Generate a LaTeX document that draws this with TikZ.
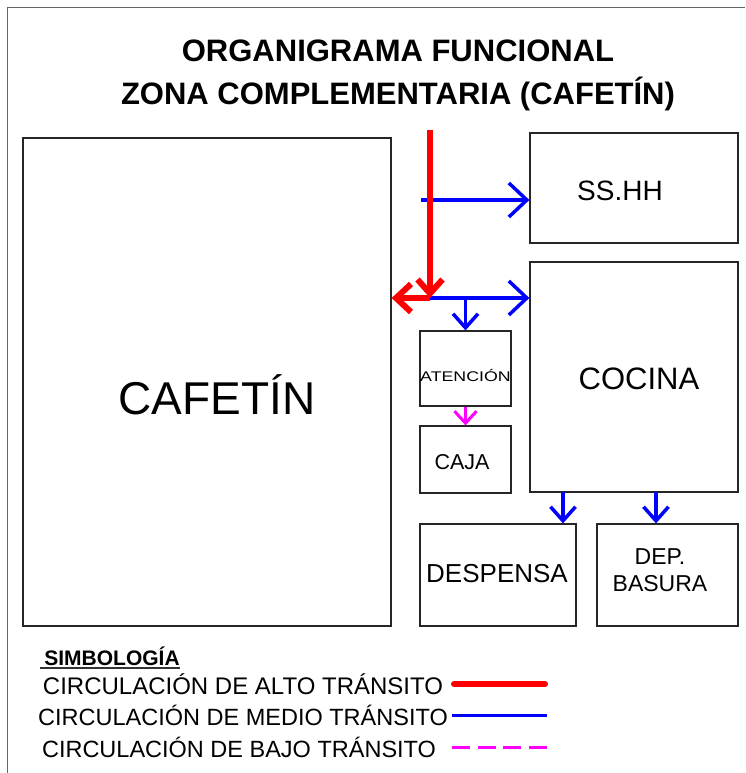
\documentclass[tikz,border=0pt]{standalone}
\usepackage{fontspec}
\setmainfont{Liberation Sans}
\usetikzlibrary{arrows.meta}
\definecolor{mag}{RGB}{255,0,255}
\definecolor{pred}{RGB}{255,0,0}
\definecolor{pblue}{RGB}{0,0,255}
\begin{document}
\begin{tikzpicture}[x=1pt,y=-1pt,
  box/.style={draw=black!85,line width=1.2pt,inner sep=0pt},
  txt/.style={inner sep=0pt,anchor=base},
  alto/.style={draw=pred,line width=6pt},
  medio/.style={draw=pblue,line width=3.5pt},
  bajo/.style={draw=mag,line width=3pt},
  big/.style={-{Straight Barb[length=18pt,width=34pt]}},
  small/.style={-{Straight Barb[length=14pt,width=25pt]}},
  tiny/.style={-{Straight Barb[length=12pt,width=22pt]}},
  redhead/.style={-{Straight Barb[length=15pt,width=28pt]}}]
\useasboundingbox (0,0) rectangle (745,773);
\draw[line width=1.3pt,black!60] (7.5,773) -- (7.5,7.5) -- (745,7.5);

% title
\node[txt,font=\fontsize{31}{31}\bfseries\selectfont] (t1) at (398,61.5) {ORGANIGRAMA FUNCIONAL};
\node[txt,font=\fontsize{31}{31}\bfseries\selectfont] (t2) at (398,104.5) {ZONA COMPLEMENTARIA (CAFETÍN)};

% boxes
\node[box,minimum width=368pt,minimum height=488pt] (cafe) at (207,382) {};
\node[box,minimum width=208pt,minimum height=110pt] (sshh) at (634,188) {};
\node[box,minimum width=208pt,minimum height=230pt] (cocina) at (634,377) {};
\node[box,minimum width=91pt,minimum height=75pt] (aten) at (465.5,368.5) {};
\node[box,minimum width=91pt,minimum height=67pt] (caja) at (465.5,459.5) {};
\node[box,minimum width=156pt,minimum height=102pt] (desp) at (498,575) {};
\node[box,minimum width=141pt,minimum height=102pt] (basura) at (667.5,575) {};

% box texts
\node[txt,font=\fontsize{46}{46}\selectfont] (cafetxt) at (217,414) {CAFETÍN};
\node[txt,font=\fontsize{28}{28}\selectfont] (sshhtxt) at (620,200) {SS.HH};
\node[txt,font=\fontsize{31}{31}\selectfont] (cocinatxt) at (639,389) {COCINA};
\node[txt,font=\fontsize{14}{14}\selectfont] (atentxt) at (465.5,381.5) {\scalebox{1.27}[1]{ATENCIÓN}};
\node[txt,font=\fontsize{21.5}{21.5}\selectfont] (cajatxt) at (462,469) {CAJA};
\node[txt,font=\fontsize{26}{26}\selectfont] (desptxt) at (497,582) {DESPENSA};
\node[txt,font=\fontsize{23}{23}\selectfont] (bas1) at (660,564) {DEP.};
\node[txt,font=\fontsize{23}{23}\selectfont] (bas2) at (660,591) {BASURA};

% coordinates for connectors
\coordinate (rtop) at (430,130);
\coordinate (junc) at (430,298);
\coordinate (bs) at (421,200);
\coordinate (ja) at (465.5,298);
\coordinate (d1) at (563,492);
\coordinate (d2) at (656,492);

% blue
\draw[medio,big] (bs) -- (bs -| sshh.west);
\draw[medio,big] (junc) -- (junc -| cocina.west);
\draw[medio,small] (ja) -- (ja |- aten.north);
\draw[medio,small] (d1) -- (d1 |- desp.north);
\draw[medio,small] (d2) -- (d2 |- basura.north);
% magenta
\draw[bajo,tiny] (aten.south) -- (caja.north);
% red
\draw[alto,small] (rtop) -- (junc);
\draw[alto,redhead] (junc) -- (junc -| cafe.east);

% legend
\node[txt,font=\fontsize{21}{21}\bfseries\selectfont] (simb) at (112,665) {SIMBOLOGÍA};
\draw[line width=1.3pt,black!80] (simb.base west) ++(-4,3) coordinate (u1) -- (u1 -| simb.base east);
\node[txt,font=\fontsize{24}{24}\selectfont] (l1) at (243,694) {CIRCULACIÓN DE ALTO TRÁNSITO};
\node[txt,font=\fontsize{23.5}{23.5}\selectfont] (l2) at (243,725) {CIRCULACIÓN DE MEDIO TRÁNSITO};
\node[txt,font=\fontsize{23.5}{23.5}\selectfont] (l3) at (239,757) {CIRCULACIÓN DE BAJO TRÁNSITO};
\coordinate (a1) at (454,684); \coordinate (a2) at (545,684);
\coordinate (b1) at (452,715); \coordinate (b2) at (547,715);
\coordinate (c1) at (452,747); \coordinate (c2) at (547,747);
\draw[alto,line cap=round] (a1) -- (a2);
\draw[medio,line width=3pt] (b1) -- (b2);
\draw[bajo,dash pattern=on 18pt off 7.7pt] (c1) -- (c2);
\end{tikzpicture}
\end{document}
